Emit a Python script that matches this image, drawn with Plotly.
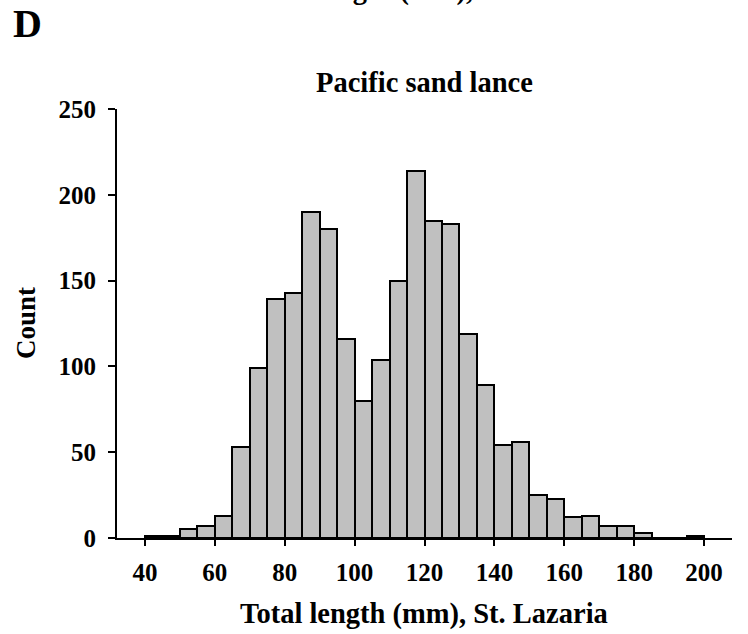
import plotly.graph_objects as go

# ---- data ----
bin_starts = [40, 45, 50, 55, 60, 65, 70, 75, 80, 85, 90, 95, 100, 105, 110, 115,
              120, 125, 130, 135, 140, 145, 150, 155, 160, 165, 170, 175, 180, 185, 190, 195]
counts = [1, 1, 5, 7, 13, 53, 99, 139, 143, 190, 180, 116, 80, 104, 150, 214,
          185, 183, 119, 89, 54, 56, 25, 23, 12, 13, 7, 7, 3, 0, 0, 1]
bin_width = 5
x_ticks = [40, 60, 80, 100, 120, 140, 160, 180, 200]
y_ticks = [0, 50, 100, 150, 200, 250]

title_text = "Pacific sand lance"
x_title = "Total length (mm), St. Lazaria"
y_title = "Count"
panel_label = "D"
prev_panel_title = "Total length (mm), St. Lazaria"

FONT = "Liberation Serif"
W, H = 748, 634
L, R, T, B = 117, 16, 109, 96
PH = H - T - B
PW = W - L - R


def py(ypx):
    """page pixel y -> paper y"""
    return (H - B - ypx) / PH


def px(xpx):
    return (xpx - L) / PW


fig = go.Figure(
    go.Bar(
        x=[s + bin_width / 2 for s in bin_starts],
        y=counts,
        width=bin_width,
        marker=dict(color="#C0C0C0", line=dict(color="black", width=2)),
        hoverinfo="skip",
    )
)

fig.update_layout(
    width=W, height=H,
    margin=dict(l=L, r=R, t=T, b=B, pad=0),
    plot_bgcolor="white", paper_bgcolor="white",
    showlegend=False, bargap=0,
)

fig.update_xaxes(
    range=[32, 208], tickmode="array", tickvals=x_ticks,
    ticktext=[str(v) for v in x_ticks],
    ticks="outside", ticklen=6, tickwidth=2, tickcolor="black",
    showline=True, linecolor="black", linewidth=2,
    showgrid=False, zeroline=False, ticklabelstandoff=5,
    tickfont=dict(family=FONT, size=25, color="black", weight="bold"),
)
fig.update_yaxes(
    range=[0, 250], tickmode="array", tickvals=y_ticks,
    ticktext=[str(v) for v in y_ticks],
    ticks="outside", ticklen=7, tickwidth=2, tickcolor="black",
    showline=True, linecolor="black", linewidth=2,
    showgrid=False, zeroline=False, ticklabelstandoff=7,
    tickfont=dict(family=FONT, size=25, color="black", weight="bold"),
)

ann_font = dict(family=FONT, color="black", weight="bold")
annotations = [
    dict(text=title_text, x=px(424), y=py(82), xref="paper", yref="paper",
         xanchor="center", yanchor="middle", showarrow=False,
         font=dict(size=28.5, **ann_font)),
    dict(text=x_title, x=px(424), y=py(614), xref="paper", yref="paper",
         xanchor="center", yanchor="middle", showarrow=False,
         font=dict(size=28.5, **ann_font)),
    dict(text=y_title, x=px(26), y=py(323), xref="paper", yref="paper",
         xanchor="center", yanchor="middle", showarrow=False, textangle=-90,
         font=dict(size=27, **ann_font)),
    dict(text=panel_label, x=px(27), y=py(24), xref="paper", yref="paper",
         xanchor="center", yanchor="middle", showarrow=False,
         font=dict(size=40, **ann_font)),
    dict(text=prev_panel_title, x=px(245), y=py(-10), xref="paper", yref="paper",
         xanchor="left", yanchor="middle", showarrow=False,
         font=dict(size=28.5, **ann_font)),
]
fig.update_layout(annotations=annotations)

fig.write_html(
    "out.html",
    config={"displayModeBar": False},
    post_script="document.body.style.margin='0';document.body.style.overflow='hidden';",
)
